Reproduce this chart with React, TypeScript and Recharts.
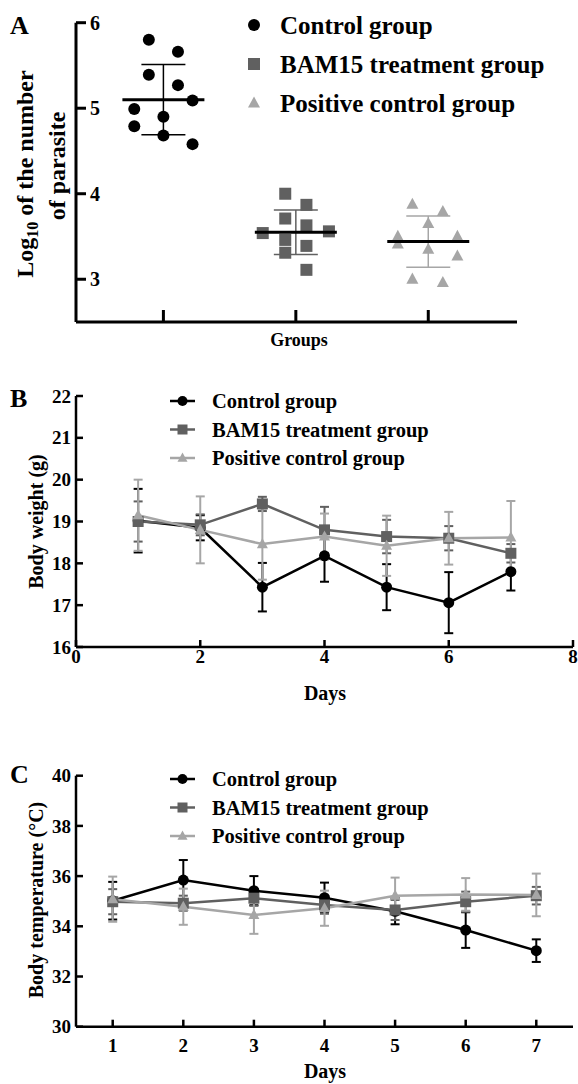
import React from 'react';
import {
  ScatterChart,
  Scatter,
  ComposedChart,
  Line,
  XAxis,
  YAxis,
  ErrorBar,
  Legend,
} from 'recharts';

const FONT = '"Liberation Serif", "Times New Roman", serif';
const BLACK = '#000000';
const DARK = '#606060';
const LIGHT = '#a6a6a6';

// shared group info
const groupNames = ['Control group', 'BAM15 treatment group', 'Positive control group'];
const groupColors = [BLACK, DARK, LIGHT];
const groupShapes = ['circle', 'square', 'triangle'];

// panel A: log10 parasite counts per mouse (x = jittered group position)
const groupPositions = [1, 2, 3];
const parasiteTicks = [3, 4, 5, 6];
const ctrlParasiteX = [0.89, 1.11, 0.89, 1.11, 1.22, 0.78, 1.0, 0.78, 1.0, 1.22];
const ctrlParasiteY = [5.8, 5.66, 5.39, 5.27, 5.09, 4.99, 4.9, 4.79, 4.68, 4.58];
const bamParasiteX = [1.92, 2.08, 1.92, 2.08, 1.75, 2.25, 1.92, 2.08, 1.92, 2.08];
const bamParasiteY = [4.0, 3.87, 3.71, 3.63, 3.54, 3.56, 3.46, 3.39, 3.31, 3.11];
const posParasiteX = [2.88, 3.11, 3.0, 2.77, 2.77, 3.22, 3.0, 3.22, 2.88, 3.11];
const posParasiteY = [3.875, 3.79, 3.65, 3.5, 3.41, 3.5, 3.35, 3.27, 3.0, 2.96];
const parasiteMeans = [5.1, 3.55, 3.44];
const parasiteSds = [0.41, 0.26, 0.3];

// panel B: body weight (g)
const days = [1, 2, 3, 4, 5, 6, 7];
const weightDayTicks = [0, 2, 4, 6, 8];
const weightTicks = [16, 17, 18, 19, 20, 21, 22];
const ctrlWeight = [19.02, 18.85, 17.43, 18.18, 17.43, 17.06, 17.8];
const ctrlWeightSd = [0.76, 0.3, 0.58, 0.62, 0.55, 0.73, 0.45];
const bamWeight = [19.0, 18.92, 19.42, 18.8, 18.64, 18.6, 18.24];
const bamWeightSd = [0.48, 0.25, 0.17, 0.55, 0.4, 0.29, 0.22];
const posWeight = [19.15, 18.8, 18.46, 18.64, 18.42, 18.6, 18.62];
const posWeightSd = [0.85, 0.8, 0.85, 0.55, 0.72, 0.63, 0.87];

// panel C: body temperature (°C)
const tempTicks = [30, 32, 34, 36, 38, 40];
const ctrlTemp = [35.02, 35.84, 35.42, 35.14, 34.6, 33.85, 33.03];
const ctrlTempSd = [0.75, 0.8, 0.58, 0.6, 0.52, 0.71, 0.45];
const bamTemp = [34.98, 34.92, 35.12, 34.85, 34.65, 34.98, 35.22];
const bamTempSd = [0.5, 0.3, 0.3, 0.35, 0.4, 0.4, 0.35];
const posTemp = [35.08, 34.78, 34.45, 34.72, 35.22, 35.27, 35.25];
const posTempSd = [0.9, 0.72, 0.75, 0.7, 0.72, 0.65, 0.85];

const toPoints = (xs: number[], ys: number[]) => xs.map((x, i) => ({ x, y: ys[i] }));
const parasitePoints = [
  toPoints(ctrlParasiteX, ctrlParasiteY),
  toPoints(bamParasiteX, bamParasiteY),
  toPoints(posParasiteX, posParasiteY),
];
const parasiteSummary = groupPositions.map((x, i) => [{ x, y: parasiteMeans[i], sd: parasiteSds[i] }]);

const buildRows = (c: number[], cs: number[], b: number[], bs: number[], p: number[], ps: number[]) =>
  days.map((day, i) => ({ day, ctrl: c[i], ctrlSd: cs[i], bam: b[i], bamSd: bs[i], pos: p[i], posSd: ps[i] }));
const weightRows = buildRows(ctrlWeight, ctrlWeightSd, bamWeight, bamWeightSd, posWeight, posWeightSd);
const tempRows = buildRows(ctrlTemp, ctrlTempSd, bamTemp, bamTempSd, posTemp, posTempSd);

const Marker = ({ cx, cy, kind, color, size }: any) => {
  if (cx == null || cy == null) return null;
  if (kind === 'circle') return <circle cx={cx} cy={cy} r={size / 2} fill={color} />;
  if (kind === 'square')
    return <rect x={cx - size / 2} y={cy - size / 2} width={size} height={size} fill={color} />;
  const h = size * 0.92;
  return (
    <polygon
      points={`${cx},${cy - h * 0.6} ${cx - size / 2},${cy + h * 0.4} ${cx + size / 2},${cy + h * 0.4}`}
      fill={color}
    />
  );
};

const dotRenderer = (kind: string, color: string, size: number) => (props: any) =>
  <Marker key={`d-${props.index}`} cx={props.cx} cy={props.cy} kind={kind} color={color} size={size} />;

const textStyle = { fontFamily: FONT, fontWeight: 'bold' as const, fill: BLACK };

// ticks
const YTickA = ({ x, y, payload }: any) => (
  <g>
    <line x1={x} x2={x + 10} y1={y} y2={y} stroke={BLACK} strokeWidth={3} />
    <text x={x + 14} y={y} dy="0.35em" fontSize={20} {...textStyle}>{payload.value}</text>
  </g>
);
const XTickA = ({ x, y }: any) => <line x1={x} x2={x} y1={y} y2={y - 12} stroke={BLACK} strokeWidth={3} />;

const YTickIn = ({ x, y, payload }: any) => (
  <g>
    <line x1={x} x2={x + 7} y1={y} y2={y} stroke={BLACK} strokeWidth={2.5} />
    <text x={x - 5} y={y} dy="0.35em" textAnchor="end" fontSize={19} {...textStyle}>{payload.value}</text>
  </g>
);
const makeXTickIn = (labelGap: number) => ({ x, y, payload }: any) => (
  <g>
    <line x1={x} x2={x} y1={y} y2={y - 7} stroke={BLACK} strokeWidth={2.5} />
    <text x={x} y={y + labelGap} textAnchor="middle" fontSize={19} {...textStyle}>{payload.value}</text>
  </g>
);

// legends
const LegendA = () => (
  <svg width={330} height={125}>
    {groupNames.map((name, i) => (
      <g key={name}>
        <Marker kind={groupShapes[i]} cx={14} cy={25 + i * 39} size={12} color={groupColors[i]} />
        <text x={40} y={25 + i * 39} dy="0.35em" fontSize={25} {...textStyle}>{name}</text>
      </g>
    ))}
  </svg>
);

const LineLegend = () => (
  <svg width={300} height={95}>
    {groupNames.map((name, i) => (
      <g key={name}>
        <line x1={10} x2={35} y1={14 + i * 28.5} y2={14 + i * 28.5} stroke={groupColors[i]} strokeWidth={2.5} />
        <Marker kind={groupShapes[i]} cx={22.5} cy={14 + i * 28.5} size={10} color={groupColors[i]} />
        <text x={52} y={14 + i * 28.5} dy="0.35em" fontSize={20.5} {...textStyle}>{name}</text>
      </g>
    ))}
  </svg>
);

// titles
const TitleA = () => (
  <g>
    <text x={10} y={34} fontSize={26} {...textStyle}>A</text>
    <text transform="rotate(-90)" x={-174} y={33} textAnchor="middle" fontSize={24} {...textStyle}>
      Log<tspan fontSize={16} dy={5}>10</tspan>
      <tspan dy={-5}> of the number</tspan>
    </text>
    <text transform="rotate(-90)" x={-166} y={65} textAnchor="middle" fontSize={24} {...textStyle}>
      of parasite
    </text>
  </g>
);
const GroupsLabel = () => (
  <text x={299} y={346} textAnchor="middle" fontSize={18} {...textStyle}>Groups</text>
);

const makeLineTitle = (letter: string, letterY: number, title: string, titleY: number) => () => (
  <g>
    <text x={10} y={letterY} fontSize={26} {...textStyle}>{letter}</text>
    <text transform="rotate(-90)" x={-titleY} y={43} textAnchor="middle" fontSize={20} {...textStyle}>
      {title}
    </text>
  </g>
);
const makeDaysLabel = (baseY: number) => () => (
  <text x={325} y={baseY} textAnchor="middle" fontSize={20} {...textStyle}>Days</text>
);

const ParasiteChart = () => (
  <ScatterChart width={578} height={360} margin={{ top: 22.7, right: 61, left: 26, bottom: 8 }}>
    <XAxis
      type="number"
      dataKey="x"
      domain={[0.34, 3.67]}
      ticks={groupPositions}
      interval={0}
      height={30}
      tickSize={0}
      tickMargin={0}
      tickLine={false}
      axisLine={{ stroke: BLACK, strokeWidth: 3 }}
      tick={<XTickA />}
      label={GroupsLabel}
    />
    <YAxis
      type="number"
      dataKey="y"
      domain={[2.5, 6]}
      ticks={parasiteTicks}
      interval={0}
      width={50}
      tickSize={0}
      tickMargin={0}
      tickLine={false}
      axisLine={{ stroke: BLACK, strokeWidth: 3 }}
      tick={<YTickA />}
      label={TitleA}
    />
    {parasitePoints.map((pts, i) => (
      <Scatter
        key={groupNames[i]}
        name={groupNames[i]}
        data={pts}
        isAnimationActive={false}
        shape={(p: any) => <Marker cx={p.cx} cy={p.cy} kind={groupShapes[i]} color={groupColors[i]} size={12} />}
      />
    ))}
    {parasiteSummary.map((pts, i) => (
      <Scatter
        key={`mean-${groupNames[i]}`}
        data={pts}
        isAnimationActive={false}
        legendType="none"
        shape={(p: any) => (
          <line x1={p.cx - 41} x2={p.cx + 41} y1={p.cy} y2={p.cy} stroke={BLACK} strokeWidth={3} />
        )}
      >
        <ErrorBar dataKey="sd" direction="y" width={22} stroke={groupColors[i]} strokeWidth={1.5} isAnimationActive={false} />
      </Scatter>
    ))}
    <Legend
      layout="vertical"
      align="center"
      verticalAlign="middle"
      wrapperStyle={{ left: 240, top: 0, width: 330 }}
      content={() => <LegendA />}
    />
  </ScatterChart>
);

const TimeChart = ({ rows, height, margin, xDomain, xTicks, yDomain, yTicks, xLabelGap, title, daysLabel, legendTop }: any) => (
  <ComposedChart width={578} height={height} data={rows} margin={margin}>
    <XAxis
      type="number"
      dataKey="day"
      domain={xDomain}
      ticks={xTicks}
      interval={0}
      height={30}
      tickSize={0}
      tickMargin={0}
      tickLine={false}
      axisLine={{ stroke: BLACK, strokeWidth: 2.5 }}
      tick={makeXTickIn(xLabelGap)}
      label={daysLabel}
    />
    <YAxis
      type="number"
      domain={yDomain}
      ticks={yTicks}
      interval={0}
      width={50}
      tickSize={0}
      tickMargin={0}
      tickLine={false}
      axisLine={{ stroke: BLACK, strokeWidth: 2.5 }}
      tick={<YTickIn />}
      label={title}
    />
    {['ctrl', 'bam', 'pos'].map((key, i) => (
      <Line
        key={key}
        dataKey={key}
        name={groupNames[i]}
        stroke={groupColors[i]}
        strokeWidth={2.5}
        dot={dotRenderer(groupShapes[i], groupColors[i], 11)}
        activeDot={false}
        isAnimationActive={false}
      >
        <ErrorBar dataKey={`${key}Sd`} direction="y" width={4.5} stroke={groupColors[i]} strokeWidth={2} isAnimationActive={false} />
      </Line>
    ))}
    <Legend
      layout="vertical"
      align="center"
      verticalAlign="middle"
      wrapperStyle={{ left: 160, top: legendTop, width: 300 }}
      content={() => <LineLegend />}
    />
  </ComposedChart>
);

export default function App() {
  return (
    <div style={{ position: 'absolute', left: 0, top: 0, width: 578, height: 1084, background: '#fff', fontFamily: FONT }}>
      <div style={{ position: 'absolute', left: 0, top: 0 }}>
        <ParasiteChart />
      </div>
      <div style={{ position: 'absolute', left: 0, top: 370 }}>
        <TimeChart
          rows={weightRows}
          height={340}
          margin={{ top: 26, right: 5, left: 26, bottom: 33 }}
          xDomain={[0, 8]}
          xTicks={weightDayTicks}
          yDomain={[16, 22]}
          yTicks={weightTicks}
          xLabelGap={16}
          title={makeLineTitle('B', 37, 'Body weight (g)', 151.5)}
          daysLabel={makeDaysLabel(330)}
          legendTop={17}
        />
      </div>
      <div style={{ position: 'absolute', left: 0, top: 750 }}>
        <TimeChart
          rows={tempRows}
          height={334}
          margin={{ top: 25.7, right: 5, left: 26, bottom: 27.3 }}
          xDomain={[0.48, 7.52]}
          xTicks={days}
          yDomain={[30, 40]}
          yTicks={tempTicks}
          xLabelGap={25}
          title={makeLineTitle('C', 33, 'Body temperature (°C)', 150)}
          daysLabel={makeDaysLabel(328)}
          legendTop={15}
        />
      </div>
    </div>
  );
}
